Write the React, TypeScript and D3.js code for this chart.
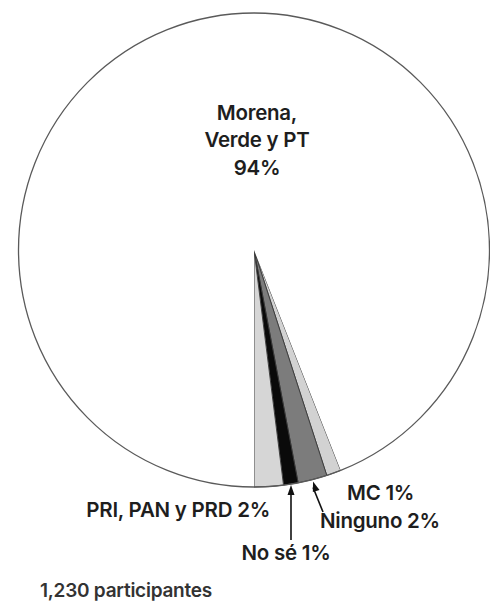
import React from "react";
import * as d3 from "d3";

const categories = ["MC", "Ninguno", "No sé", "PRI, PAN y PRD", "Morena, Verde y PT"];
const values = [1, 2, 1, 2, 94];
const colors = ["#d2d2d2", "#7c7c7c", "#0a0a0a", "#d6d6d6", "#ffffff"];
const totalLabel = "1,230 participantes";

const W = 490;
const H = 602;
const cx = 254;
const cy = 250;
const r = 235.5;
const sy = 237 / 235.5;
const startDeg = 158.4;

export default function App() {
  const pie = d3
    .pie<number>()
    .sort(null)
    .value((d) => d)
    .startAngle((startDeg * Math.PI) / 180)
    .endAngle((startDeg * Math.PI) / 180 + 2 * Math.PI);
  const arcs = pie(values);
  const arc = d3.arc<d3.PieArcDatum<number>>().innerRadius(0).outerRadius(r);

  const edge = (i: number, rr: number) => {
    const a = (arcs[i].startAngle + arcs[i].endAngle) / 2;
    return [cx + rr * Math.sin(a), cy - rr * Math.cos(a) * sy];
  };
  const noSeTip = edge(2, r + 1);
  const ningTip = edge(1, r + 2);

  const font = "Inter, 'Noto Sans', sans-serif";
  const txt = "#1e1e1e";

  const arrowHead = (tip: number[], from: number[]) => {
    const ang = Math.atan2(tip[1] - from[1], tip[0] - from[0]);
    const L = 10, w = 3.5;
    const bx = tip[0] - L * Math.cos(ang), by = tip[1] - L * Math.sin(ang);
    const px = -Math.sin(ang) * w, py = Math.cos(ang) * w;
    return `M${tip[0]},${tip[1]}L${bx + px},${by + py}L${bx - px},${by - py}Z`;
  };

  const noSeFrom = [noSeTip[0], 540];
  const ningFrom = [323, 512];

  return (
    <svg
      width={W}
      height={H}
      style={{ position: "absolute", left: 0, top: 0, background: "#fff" }}
    >
      <g transform={`translate(${cx},${cy}) scale(1,${sy})`}>
        {arcs.map((a, i) => (
          <path
            key={categories[i]}
            d={arc(a) || ""}
            fill={colors[i]}
            stroke={i === 4 ? "none" : "#3a3a3a"}
            strokeWidth={0.9}
            vectorEffect="non-scaling-stroke"
          />
        ))}
        <circle r={r} fill="none" stroke="#5a5a5a" strokeWidth={1.3} vectorEffect="non-scaling-stroke" />
      </g>

      <g fontFamily={font} fontWeight={600} fill={txt} fontSize={20.5} letterSpacing={-0.25}>
        <text x={257} y={120} textAnchor="middle">Morena,</text>
        <text x={257} y={147} textAnchor="middle">Verde y PT</text>
        <text x={257} y={175} textAnchor="middle">{values[4]}%</text>

        <text x={270} y={517} textAnchor="end">{categories[3]} {values[3]}%</text>
        <text x={347} y={500}>{categories[0]} {values[0]}%</text>
        <text x={320} y={528}>{categories[1]} {values[1]}%</text>
        <text x={286} y={560} textAnchor="middle">{categories[2]} {values[2]}%</text>
      </g>

      <line x1={noSeFrom[0]} y1={noSeFrom[1]} x2={noSeTip[0]} y2={noSeTip[1] + 6} stroke="#111" strokeWidth={1.6} />
      <path d={arrowHead(noSeTip, noSeFrom)} fill="#111" />
      <line x1={ningFrom[0]} y1={ningFrom[1]} x2={ningTip[0]} y2={ningTip[1] + 6} stroke="#111" strokeWidth={1.6} />
      <path d={arrowHead(ningTip, ningFrom)} fill="#111" />

      <text x={40} y={597} fontFamily={font} fontWeight={600} fontSize={19} letterSpacing={-0.25} fill="#333">
        {totalLabel}
      </text>
    </svg>
  );
}
